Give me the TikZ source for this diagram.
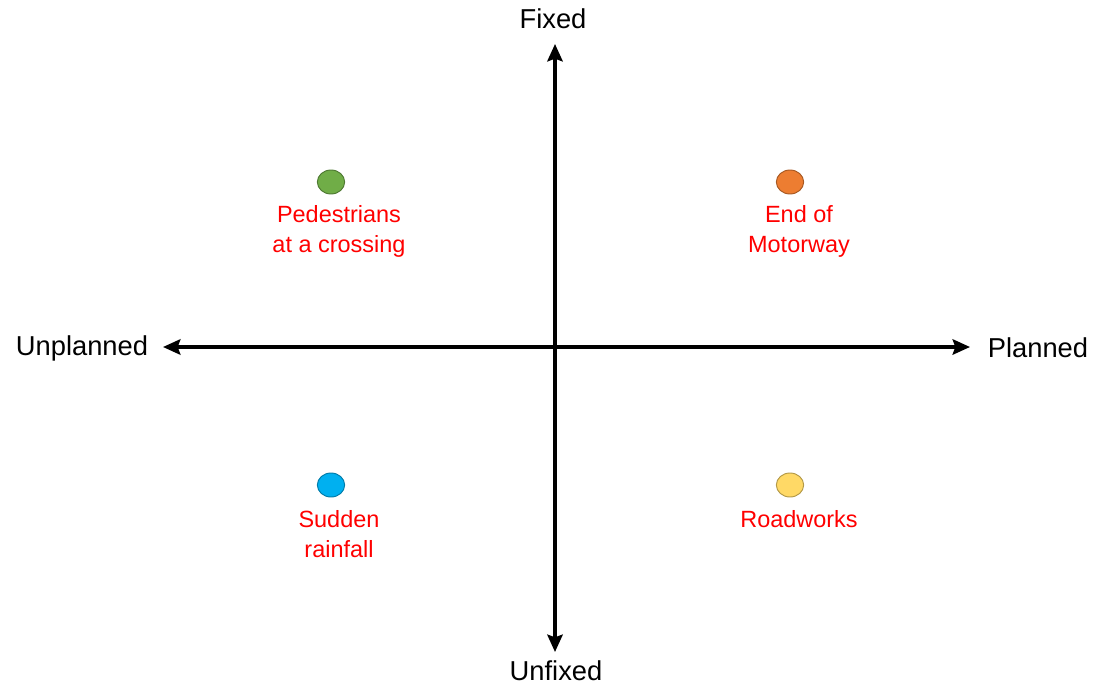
\documentclass[tikz,border=0pt]{standalone}
\usepackage{fontspec}
\setmainfont{Liberation Sans}
\usepackage{xcolor}
\usetikzlibrary{shapes.geometric, arrows.meta, positioning}

\definecolor{dotgreen}{HTML}{70AD47}
\definecolor{dotorange}{HTML}{ED7D31}
\definecolor{dotblue}{HTML}{00B0F0}
\definecolor{dotyellow}{HTML}{FFD966}
\definecolor{labelred}{HTML}{FF0000}

\tikzset{
    axis/.style={line width=2.6pt, {Stealth[length=13pt,width=11.5pt,inset=2pt]}-{Stealth[length=13pt,width=11.5pt,inset=2pt]}},
    axislabel/.style={inner sep=0pt, font=\fontsize{20.5}{24}\selectfont},
    dot/.style={ellipse, draw=#1!70!black, fill=#1, line width=0.7pt, minimum width=20.5pt, minimum height=18pt, inner sep=0pt},
    item/.style={align=center, inner sep=0pt, text=labelred, font=\fontsize{17.6}{22.5}\selectfont}
}

\begin{document}
\begin{tikzpicture}[x=0.75pt, y=-0.75pt]
    \useasboundingbox (0,0) rectangle (1107,685);

    % axes
    \coordinate (west) at (163,347);
    \coordinate (east) at (970,347);
    \coordinate (north) at (555,44);
    \coordinate (south) at (555,652);
    \draw[axis] (west) -- (east);
    \draw[axis] (south) -- (north);

    % axis labels
    \node[axislabel] (fixed) at (553,19) {Fixed};
    \node[axislabel] (unfixed) at (556,671) {Unfixed};
    \node[axislabel] (unplanned) at (82,348) {Unplanned};
    \node[axislabel] (planned) at (1038,348) {Planned};

    % quadrant items
    \node[dot=dotgreen] (crossing) at (331,182) {};
    \node[item] at (339,231) {Pedestrians\\at a crossing};

    \node[dot=dotorange] (motorway) at (790,182) {};
    \node[item] at (799,231) {End of\\Motorway};

    \node[dot=dotblue] (rainfall) at (331,485) {};
    \node[item] at (339,534) {Sudden\\rainfall};

    \node[dot=dotyellow] (roadworks) at (790,485) {};
    \node[item] at (799,519) {Roadworks};
\end{tikzpicture}
\end{document}
